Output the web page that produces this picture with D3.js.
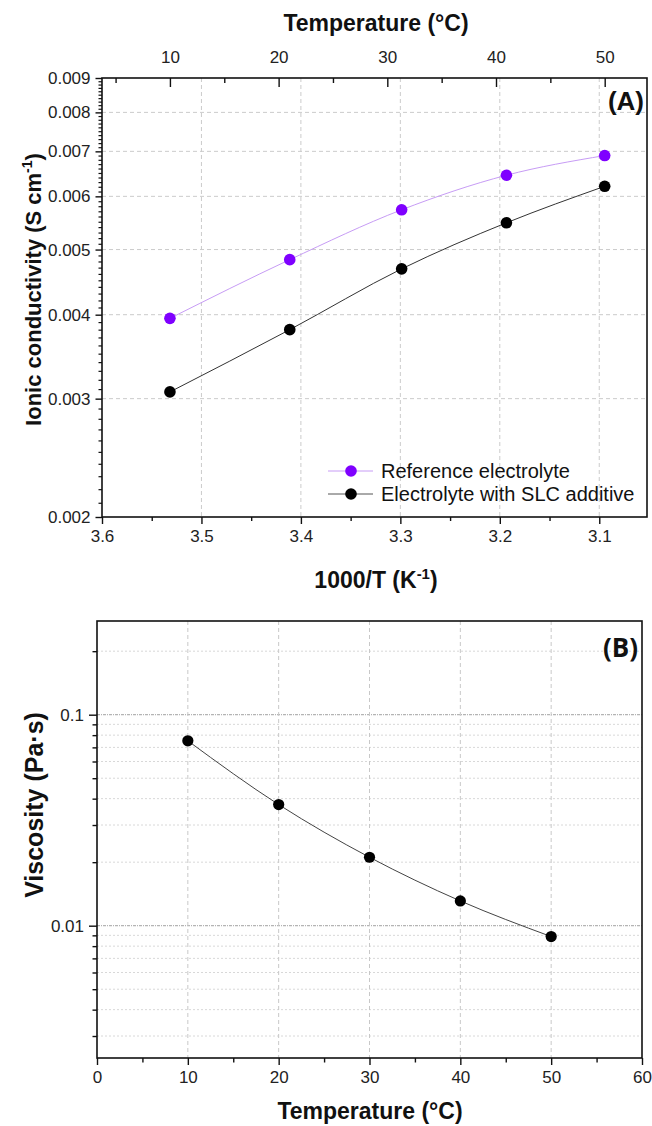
<!DOCTYPE html>
<html><head><meta charset="utf-8">
<script src="https://cdn.jsdelivr.net/npm/d3@7"></script>
<style>
html,body{margin:0;padding:0;background:#fff;}
svg{display:block;}
.tk text{font-family:"Liberation Sans",Arial,sans-serif;font-size:17px;fill:#222;}
.ttl{font-family:"Liberation Sans",Arial,sans-serif;font-weight:bold;fill:#111;}
</style></head>
<body>
<svg id="c" width="652" height="1126"></svg>
<script>
// ---------- Data ----------
const tempsC = [10, 20, 30, 40, 50];
const invT = tempsC.map(t => 1000 / (t + 273.15));
const refCond = [0.00395, 0.00483, 0.00573, 0.00645, 0.00690];
const slcCond = [0.00307, 0.00380, 0.00468, 0.00548, 0.00621];
const viscosity = [0.0752, 0.0375, 0.0211, 0.0131, 0.00888];
const condTicks = [0.002, 0.003, 0.004, 0.005, 0.006, 0.007, 0.008, 0.009];
const invTTicks = [3.6, 3.5, 3.4, 3.3, 3.2, 3.1];
const topTempTicks = [10, 20, 30, 40, 50];
const viscTicks = [0.01, 0.1];
const tempTicksB = [0, 10, 20, 30, 40, 50, 60];
const legendLabels = ["Reference electrolyte", "Electrolyte with SLC additive"];

const svg = d3.select("#c");
const purple = "#7f00ff";

// ---------- Panel A ----------
const A = {l: 102, r: 647, t: 78, b: 517};
const xA = d3.scaleLinear().domain([3.6, 3.052]).range([A.l, A.r]);
const yA = d3.scaleLog().domain([0.002, 0.009]).range([A.b, A.t]);
const tA = d3.scaleLinear().domain([10, 50]).range([xA(invT[0]), xA(invT[4])]);
const gA = svg.append("g");

// grid
gA.append("g").selectAll("line").data(invTTicks.slice(1)).join("line")
  .attr("x1", d => xA(d)).attr("x2", d => xA(d)).attr("y1", A.t).attr("y2", A.b)
  .attr("stroke", "#cbcbcb").attr("stroke-width", 1).attr("stroke-dasharray", "4,3");
gA.append("g").selectAll("line").data(condTicks.slice(1, -1)).join("line")
  .attr("y1", d => yA(d)).attr("y2", d => yA(d)).attr("x1", A.l).attr("x2", A.r)
  .attr("stroke", "#cbcbcb").attr("stroke-width", 1).attr("stroke-dasharray", "4,3");

// minor ticks left
const condMinor = d3.range(20, 91).map(i => i / 10000).filter(v => !condTicks.some(c => Math.abs(c - v) < 1e-9));
gA.append("g").attr("transform", `translate(${A.l},0)`)
  .call(d3.axisLeft(yA).tickValues(condMinor).tickSize(3.5).tickFormat(""))
  .call(g => g.select(".domain").remove())
  .selectAll("line").attr("stroke", "#111").attr("stroke-width", 1.2);
gA.append("g").attr("class", "tk").attr("transform", `translate(${A.l},0)`)
  .call(d3.axisLeft(yA).tickValues(condTicks).tickSize(6.5).tickPadding(5).tickFormat(d3.format(".3f")))
  .call(g => g.select(".domain").remove())
  .selectAll("line").attr("stroke", "#111").attr("stroke-width", 1.4);

// bottom axis
gA.append("g").attr("transform", `translate(0,${A.b})`)
  .call(d3.axisBottom(xA).tickValues([3.55, 3.45, 3.35, 3.25, 3.15]).tickSize(4).tickFormat(""))
  .call(g => g.select(".domain").remove())
  .selectAll("line").attr("stroke", "#111").attr("stroke-width", 1.4);
gA.append("g").attr("class", "tk").attr("transform", `translate(0,${A.b})`)
  .call(d3.axisBottom(xA).tickValues(invTTicks).tickSize(7).tickPadding(6).tickFormat(d3.format(".1f")))
  .call(g => g.select(".domain").remove())
  .selectAll("line").attr("stroke", "#111").attr("stroke-width", 1.4);

// top axis (temperature)
gA.append("g").attr("transform", `translate(0,${A.t})`)
  .call(d3.axisTop(tA).tickValues([5, 15, 25, 35, 45]).tickSize(-5).tickFormat(""))
  .call(g => g.select(".domain").remove())
  .selectAll("line").attr("stroke", "#111").attr("stroke-width", 1.4);
gA.append("g").attr("class", "tk").attr("transform", `translate(0,${A.t})`)
  .call(d3.axisTop(tA).tickValues(topTempTicks).tickSize(-9).tickPadding(15))
  .call(g => g.select(".domain").remove())
  .selectAll("line").attr("stroke", "#111").attr("stroke-width", 1.4);

// frame
gA.append("rect").attr("x", A.l).attr("y", A.t).attr("width", A.r - A.l).attr("height", A.b - A.t)
  .attr("fill", "none").attr("stroke", "#111").attr("stroke-width", 1.6);

// lines
const lineA = d3.line().x((d, i) => xA(invT[i])).y(d => yA(d)).curve(d3.curveMonotoneX);
gA.append("path").datum(refCond).attr("d", lineA).attr("fill", "none").attr("stroke", "#c79cf5").attr("stroke-width", 1);
gA.append("path").datum(slcCond).attr("d", lineA).attr("fill", "none").attr("stroke", "#333").attr("stroke-width", 1);
gA.append("g").selectAll("circle").data(refCond).join("circle")
  .attr("cx", (d, i) => xA(invT[i])).attr("cy", d => yA(d)).attr("r", 5.8).attr("fill", purple);
gA.append("g").selectAll("circle").data(slcCond).join("circle")
  .attr("cx", (d, i) => xA(invT[i])).attr("cy", d => yA(d)).attr("r", 5.8).attr("fill", "#000");

// legend
const leg = gA.append("g");
const legRows = [{c: purple, lc: "#c79cf5", y: 471}, {c: "#000", lc: "#555", y: 494}];
legRows.forEach((r, i) => {
  leg.append("line").attr("x1", 328).attr("x2", 373).attr("y1", r.y).attr("y2", r.y).attr("stroke", r.lc).attr("stroke-width", 1);
  leg.append("circle").attr("cx", 351).attr("cy", r.y).attr("r", 5.8).attr("fill", r.c);
  leg.append("text").attr("x", 381).attr("y", r.y + 7).text(legendLabels[i])
    .attr("font-family", "Liberation Sans, Arial, sans-serif").attr("font-size", 20).attr("fill", "#111");
});

gA.append("text").attr("class", "ttl").attr("x", 644).attr("y", 110).attr("text-anchor", "end")
  .attr("font-size", 26).text("(A)");
svg.append("text").attr("class", "ttl").attr("x", 376).attr("y", 31).attr("text-anchor", "middle")
  .attr("font-size", 23).text("Temperature (°C)");
const xt = svg.append("text").attr("class", "ttl").attr("x", 376).attr("y", 588).attr("text-anchor", "middle").attr("font-size", 23);
xt.append("tspan").text("1000/T (K");
xt.append("tspan").attr("dy", -9).attr("font-size", 15).text("-1");
xt.append("tspan").attr("dy", 9).text(")");
const yt = svg.append("text").attr("class", "ttl").attr("transform", `translate(41,${(A.t + A.b) / 2 - 8}) rotate(-90)`)
  .attr("text-anchor", "middle").attr("font-size", 22);
yt.append("tspan").text("Ionic conductivity (S cm");
yt.append("tspan").attr("dy", -9).attr("font-size", 14).text("-1");
yt.append("tspan").attr("dy", 9).text(")");

// ---------- Panel B ----------
const B = {l: 97, r: 642, t: 621, b: 1058};
const xB = d3.scaleLinear().domain([0, 60]).range([B.l, B.r]);
const yB = d3.scaleLog().domain([0.00236, 0.278]).range([B.b, B.t]);
const gB = svg.append("g");
const viscMinor = [0.003, 0.004, 0.005, 0.006, 0.007, 0.008, 0.009, 0.02, 0.03, 0.04, 0.05, 0.06, 0.07, 0.08, 0.09, 0.2];

gB.append("g").selectAll("line").data(viscMinor).join("line")
  .attr("y1", d => yB(d)).attr("y2", d => yB(d)).attr("x1", B.l).attr("x2", B.r)
  .attr("stroke", "#d8d8d8").attr("stroke-width", 1).attr("stroke-dasharray", "2,2");
gB.append("g").selectAll("line").data(viscTicks).join("line")
  .attr("y1", d => yB(d)).attr("y2", d => yB(d)).attr("x1", B.l).attr("x2", B.r)
  .attr("stroke", "#b4b4b4").attr("stroke-width", 1.2).attr("stroke-dasharray", "3,1,1,1");
gB.append("g").selectAll("line").data(tempTicksB.slice(1, -1)).join("line")
  .attr("x1", d => xB(d)).attr("x2", d => xB(d)).attr("y1", B.t).attr("y2", B.b)
  .attr("stroke", "#c8c8c8").attr("stroke-width", 1).attr("stroke-dasharray", "4,3");

gB.append("g").attr("transform", `translate(${B.l},0)`)
  .call(d3.axisLeft(yB).tickValues(viscMinor).tickSize(4.5).tickFormat(""))
  .call(g => g.select(".domain").remove())
  .selectAll("line").attr("stroke", "#111").attr("stroke-width", 1.4);
gB.append("g").attr("class", "tk").attr("transform", `translate(${B.l},0)`)
  .call(d3.axisLeft(yB).tickValues(viscTicks).tickSize(8).tickPadding(5).tickFormat(d => d3.format("")(d)))
  .call(g => g.select(".domain").remove())
  .selectAll("line").attr("stroke", "#111").attr("stroke-width", 1.4);
gB.append("g").attr("transform", `translate(0,${B.b})`)
  .call(d3.axisBottom(xB).tickValues([5, 15, 25, 35, 45, 55]).tickSize(4.5).tickFormat(""))
  .call(g => g.select(".domain").remove())
  .selectAll("line").attr("stroke", "#111").attr("stroke-width", 1.4);
gB.append("g").attr("class", "tk").attr("transform", `translate(0,${B.b})`)
  .call(d3.axisBottom(xB).tickValues(tempTicksB).tickSize(7).tickPadding(6))
  .call(g => g.select(".domain").remove())
  .selectAll("line").attr("stroke", "#111").attr("stroke-width", 1.4);

gB.append("rect").attr("x", B.l).attr("y", B.t).attr("width", B.r - B.l).attr("height", B.b - B.t)
  .attr("fill", "none").attr("stroke", "#111").attr("stroke-width", 1.6);

const lineB = d3.line().x((d, i) => xB(tempsC[i])).y(d => yB(d)).curve(d3.curveMonotoneX);
gB.append("path").datum(viscosity).attr("d", lineB).attr("fill", "none").attr("stroke", "#444").attr("stroke-width", 1);
gB.append("g").selectAll("circle").data(viscosity).join("circle")
  .attr("cx", (d, i) => xB(tempsC[i])).attr("cy", d => yB(d)).attr("r", 5.6).attr("fill", "#000");

gB.append("text").attr("x", 638).attr("y", 657).attr("text-anchor", "end")
  .attr("font-family", "Open Sans, sans-serif").attr("font-weight", "bold").attr("font-size", 26).attr("fill", "#111").text("(B)");
svg.append("text").attr("class", "ttl").attr("x", 370).attr("y", 1119).attr("text-anchor", "middle")
  .attr("font-size", 23).text("Temperature (°C)");
svg.append("text").attr("class", "ttl").attr("transform", `translate(43,${805}) rotate(-90)`)
  .attr("text-anchor", "middle").attr("font-size", 25).text("Viscosity (Pa·s)");
</script>
</body></html>
